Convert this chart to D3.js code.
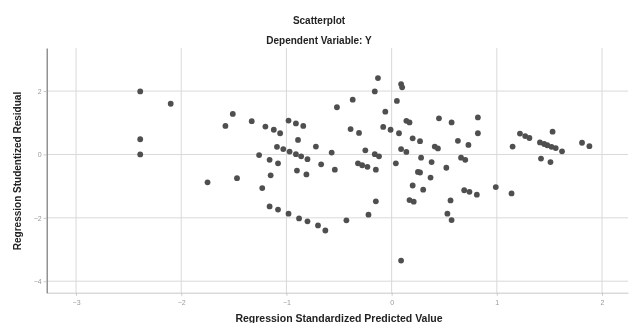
<!DOCTYPE html>
<html>
<head>
<meta charset="utf-8">
<script src="https://cdn.jsdelivr.net/npm/d3@7"></script>
<style>
  html, body { margin: 0; padding: 0; background: #fff; }
  svg { display: block; font-family: "Liberation Sans", Arial, sans-serif; }
</style>
</head>
<body>
<script>
// standardized predicted value (x) and studentized residual (y)
const predicted = [
  -2.39, -2.39, -2.39, -2.10, -1.75, -1.58, -1.51, -1.47, -1.33, -1.26,
  -1.23, -1.20, -1.16, -1.15, -1.16, -1.12, -1.08, -1.08, -1.06, -0.98,
  -0.91, -0.84, -1.09, -1.03, -0.97, -0.91, -0.86, -0.98, -0.90, -0.89,
  -0.88, -0.81, -0.80, -0.80, -0.72, -0.70, -0.67, -0.63, -0.57, -0.54,
  -0.52, -0.43, -0.39, -0.37, -0.32, -0.31, -0.28, -0.25, -0.23, -0.22,
  -0.16, -0.16, -0.15, -0.15, -0.13, -0.12, -0.08, -0.06, -0.01, 0.04,
  0.05, 0.07, 0.09, 0.09, 0.10, 0.09, 0.14, 0.14, 0.17, 0.17,
  0.20, 0.20, 0.21, 0.25, 0.27, 0.27, 0.28, 0.30, 0.37, 0.38,
  0.41, 0.44, 0.45, 0.52, 0.53, 0.56, 0.57, 0.57, 0.63, 0.66,
  0.70, 0.73, 0.69, 0.74, 0.81, 0.82, 0.82, 0.99, 1.14, 1.15,
  1.22, 1.27, 1.31, 1.41, 1.45, 1.48, 1.52, 1.56, 1.62, 1.53,
  1.42, 1.51, 1.81, 1.88
];
const residual = [
  1.99, 0.48, 0.00, 1.60, -0.88, 0.90, 1.28, -0.75, 1.05, -0.02,
  -1.06, 0.88, -0.17, -0.66, -1.64, 0.78, -0.28, -1.74, 0.67, 1.07,
  0.98, 0.90, 0.24, 0.17, 0.09, 0.01, -0.06, -1.87, -0.51, 0.46,
  -2.02, -0.63, -0.15, -2.11, 0.25, -2.24, -0.31, -2.40, 0.06, -0.48,
  1.49, -2.08, 0.80, 1.73, -0.28, 0.68, -0.34, 0.13, -0.39, -1.90,
  1.99, 0.01, -0.48, -1.48, 2.41, -0.06, 0.87, 1.35, 0.78, -0.28,
  1.69, 0.67, 0.17, 2.22, 2.12, -3.35, 0.08, 1.06, 1.01, -1.44,
  0.51, -0.98, -1.49, -0.55, -0.57, 0.42, -0.10, -1.11, -0.73, -0.24,
  0.25, 0.19, 1.14, -0.42, -1.87, -1.45, 1.01, -2.07, 0.43, -0.10,
  -0.17, 0.30, -1.13, -1.18, -1.27, 1.17, 0.67, -1.03, -1.23, 0.25,
  0.66, 0.58, 0.52, 0.38, 0.33, 0.29, 0.24, 0.20, 0.10, 0.72,
  -0.13, -0.24, 0.37, 0.26
];
const xTicks = [-3, -2, -1, 0, 1, 2];
const yTicks = [2, 0, -2, -4];

const points = predicted.map((p, i) => ({ x: p, y: residual[i] }));

const W = 629, H = 323;
const plotLeft = 46.7, plotRight = 628, plotTop = 48, plotBottom = 292.7;

const xScale = d3.scaleLinear().domain([-3.279, 2.247]).range([plotLeft, plotRight]);
const yScale = d3.scaleLinear().domain([3.36, -4.363]).range([plotTop, plotBottom]);

const svg = d3.select('body').append('svg')
  .attr('width', W)
  .attr('height', H);

// soft look of the original export
const defs = svg.append('defs');
defs.append('filter').attr('id', 'soft')
  .append('feGaussianBlur').attr('stdDeviation', 0.45);

const g = svg.append('g').attr('filter', 'url(#soft)');

// grid lines
g.append('g')
  .selectAll('line')
  .data(xTicks)
  .join('line')
  .attr('x1', (d) => xScale(d))
  .attr('x2', (d) => xScale(d))
  .attr('y1', plotTop)
  .attr('y2', plotBottom)
  .attr('stroke', '#d9d9d9')
  .attr('stroke-width', 1);

g.append('g')
  .selectAll('line')
  .data(yTicks)
  .join('line')
  .attr('x1', plotLeft)
  .attr('x2', plotRight)
  .attr('y1', (d) => yScale(d))
  .attr('y2', (d) => yScale(d))
  .attr('stroke', '#d9d9d9')
  .attr('stroke-width', 1);

// axes
const xAxis = g.append('g')
  .attr('transform', `translate(0, ${plotBottom})`)
  .call(d3.axisBottom(xScale).tickValues(xTicks).tickSize(3).tickSizeOuter(0).tickFormat(d3.format('d')));
xAxis.select('.domain').attr('stroke', '#c8c8c8');
xAxis.selectAll('.tick line').attr('stroke', '#c8c8c8');
xAxis.selectAll('.tick text')
  .attr('fill', '#9a9a9a')
  .style('font-size', '7px')
  .attr('dy', '0.9em');

const yAxis = g.append('g')
  .attr('transform', `translate(${plotLeft}, 0)`)
  .call(d3.axisLeft(yScale).tickValues(yTicks).tickSize(3).tickSizeOuter(0).tickFormat(d3.format('d')));
yAxis.select('.domain').attr('stroke', '#777').attr('stroke-width', 1.2);
yAxis.selectAll('.tick line').attr('stroke', '#c8c8c8');
yAxis.selectAll('.tick text')
  .attr('fill', '#9a9a9a')
  .style('font-size', '7px')
  .attr('x', -5);

// points
g.append('g')
  .selectAll('circle')
  .data(points)
  .join('circle')
  .attr('cx', (d) => xScale(d.x))
  .attr('cy', (d) => yScale(d.y))
  .attr('r', 2.9)
  .attr('fill', '#505050');

// titles
g.append('text')
  .attr('x', 319)
  .attr('y', 24)
  .attr('text-anchor', 'middle')
  .attr('font-weight', 'bold')
  .style('font-size', '10px')
  .attr('fill', '#222')
  .text('Scatterplot');

g.append('text')
  .attr('x', 319)
  .attr('y', 44)
  .attr('text-anchor', 'middle')
  .attr('font-weight', 'bold')
  .style('font-size', '10px')
  .attr('fill', '#222')
  .text('Dependent Variable: Y');

g.append('text')
  .attr('x', 339)
  .attr('y', 322)
  .attr('text-anchor', 'middle')
  .attr('font-weight', 'bold')
  .style('font-size', '10.5px')
  .attr('fill', '#222')
  .text('Regression Standardized Predicted Value');

g.append('text')
  .attr('transform', 'translate(21, 171) rotate(-90)')
  .attr('text-anchor', 'middle')
  .attr('font-weight', 'bold')
  .style('font-size', '10px')
  .attr('fill', '#222')
  .text('Regression Studentized Residual');
</script>
</body>
</html>
